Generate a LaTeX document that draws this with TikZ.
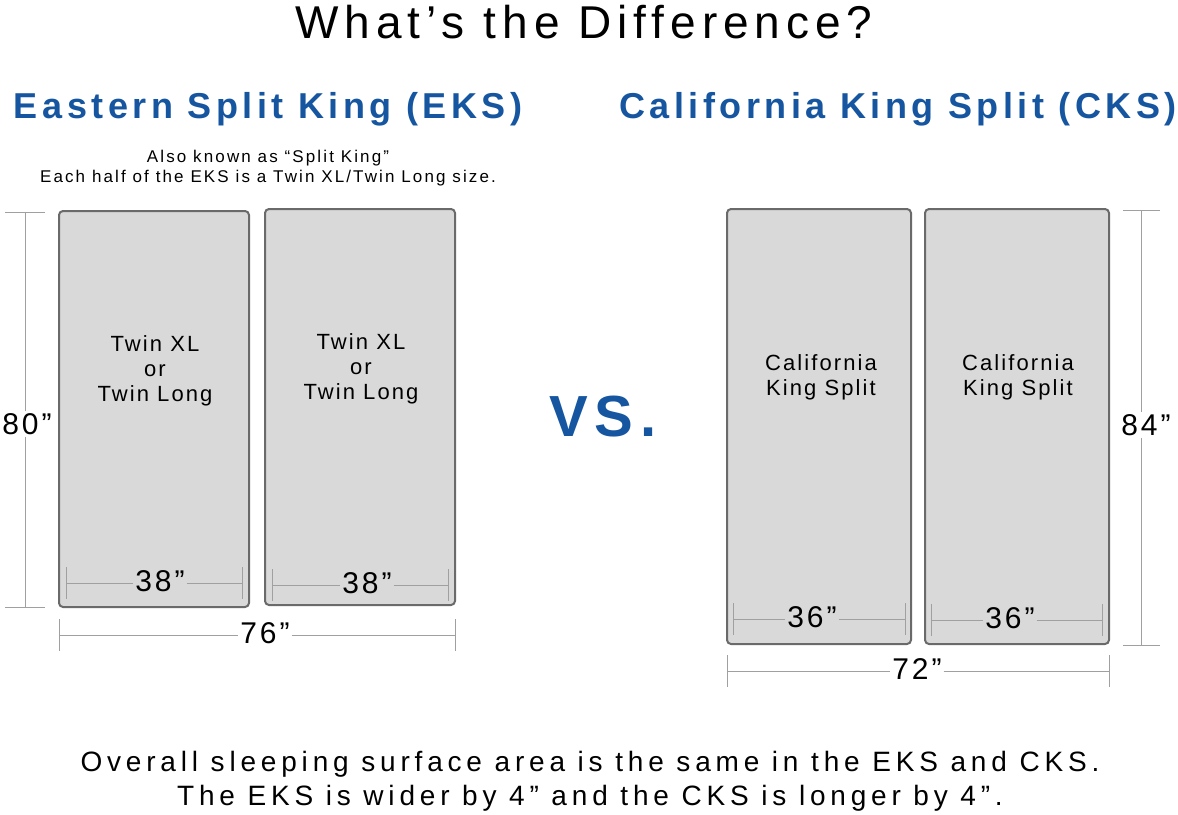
\documentclass[tikz,border=0pt]{standalone}
\usepackage{fontspec}
\setmainfont{Liberation Sans}
\newfontfamily\titlefont[LetterSpace=13]{Liberation Sans}
\newfontfamily\headfont[LetterSpace=12.5]{Liberation Sans}
\newfontfamily\trackfont[LetterSpace=9.5]{Liberation Sans}
\newfontfamily\subfont[LetterSpace=12.5]{Liberation Sans}
\newfontfamily\bottomfont[LetterSpace=17.2]{Liberation Sans}
\definecolor{eksblue}{HTML}{1656A0}
\definecolor{matfill}{HTML}{D9D9D9}
\definecolor{matedge}{HTML}{6A6A6A}
\definecolor{dimgray}{HTML}{A0A0A0}
\newcommand\hdimension[6]{% name, label, left x, right x, y, label x
  \coordinate (#1l) at (#3,#5);
  \coordinate (#1r) at (#4,#5);
  \node[dimlabel] (#1lab) at (#6,#5-2) {#2”};
  \draw[dimline] (#1l) -- (#1l -| #1lab.west);
  \draw[dimline] (#1r -| #1lab.east) -- (#1r);
  \draw[dimline] ([yshift=16pt]#1l) -- ([yshift=-16pt]#1l);
  \draw[dimline] ([yshift=16pt]#1r) -- ([yshift=-16pt]#1r);
}
\begin{document}
\begin{tikzpicture}[x=1pt,y=-1pt,
  mattress/.style={draw=matedge, line width=2pt, fill=matfill, rounded corners=4pt, inner sep=0pt},
  dimline/.style={draw=dimgray, line width=0.8pt},
  dimlabel/.style={font=\trackfont\fontsize{30}{30}\selectfont, inner sep=2pt, text=black},
  mlabel/.style={font=\trackfont\fontsize{22}{25}\selectfont, align=center, inner sep=0pt},
  heading/.style={font=\headfont\bfseries\fontsize{36}{36}\selectfont, text=eksblue, inner sep=0pt},
  foottext/.style={font=\bottomfont\fontsize{28}{34}\selectfont, inner sep=0pt, anchor=base}]
\useasboundingbox (0,0) rectangle (1178,814);
\fill[white] (0,0) rectangle (1178,814);

% title
\node[font=\titlefont\fontsize{46}{46}\selectfont, inner sep=0pt] (title) at (584,22) {What’s the Difference?};

% headings
\node[heading] (eks) at (268,109) {Eastern Split King (EKS)};
\node[heading] (cks) at (898,109) {California King Split (CKS)};
\node[font=\subfont\fontsize{17}{20}\selectfont, align=center, inner sep=0pt] (sub) at (268,168)
  {Also known as “Split King”\\Each half of the EKS is a Twin XL/Twin Long size.};

% mattresses
\node[mattress, minimum width=190pt, minimum height=396pt] (m1) at (154,409) {};
\node[mattress, minimum width=190pt, minimum height=396pt] (m2) at (360,407) {};
\node[mattress, minimum width=184pt, minimum height=435pt] (m3) at (819,426.5) {};
\node[mattress, minimum width=184pt, minimum height=435pt] (m4) at (1017,426.5) {};

\node[mlabel] (t1) at (155,371) {Twin XL\\or\\Twin Long};
\node[mlabel] (t2) at (361,369) {Twin XL\\or\\Twin Long};
\node[mlabel] (t3) at (821,377) {California\\King Split};
\node[mlabel] (t4) at (1018,377) {California\\King Split};

% VS
\node[font=\headfont\bfseries\fontsize{58}{58}\selectfont, text=eksblue, inner sep=0pt] (vs) at (603,417) {VS.};

% 80 vertical dimension
\coordinate (v80t) at (25,212);
\coordinate (v80b) at (25,607);
\node[dimlabel] (l80) at (27,424) {80”};
\draw[dimline] (v80t) -- (v80t |- l80.north);
\draw[dimline] (v80b |- l80.south) -- (v80b);
\draw[dimline] ([xshift=-20pt]v80t) -- ([xshift=20pt]v80t);
\draw[dimline] ([xshift=-20pt]v80b) -- ([xshift=20pt]v80b);

% 84 vertical dimension
\coordinate (v84t) at (1141,210);
\coordinate (v84b) at (1141,645);
\node[dimlabel] (l84) at (1146,425) {84”};
\draw[dimline] (v84t) -- (v84t |- l84.north);
\draw[dimline] (v84b |- l84.south) -- (v84b);
\draw[dimline] ([xshift=-18pt]v84t) -- ([xshift=19pt]v84t);
\draw[dimline] ([xshift=-18pt]v84b) -- ([xshift=19pt]v84b);

% horizontal dimensions
\hdimension{d76}{76}{59}{455}{635}{265}
\hdimension{d72}{72}{727}{1109}{671}{917}
\hdimension{d38a}{38}{66}{242}{583}{160}
\hdimension{d38b}{38}{272}{448}{585}{367}
\hdimension{d36a}{36}{733}{905}{619}{812}
\hdimension{d36b}{36}{931}{1102}{620}{1010}

% bottom text
\node[foottext] (foot1) at (590,771) {Overall sleeping surface area is the same in the EKS and CKS.};
\node[foottext] (foot2) at (590,805) {The EKS is wider by 4” and the CKS is longer by 4”.};
\end{tikzpicture}
\end{document}
